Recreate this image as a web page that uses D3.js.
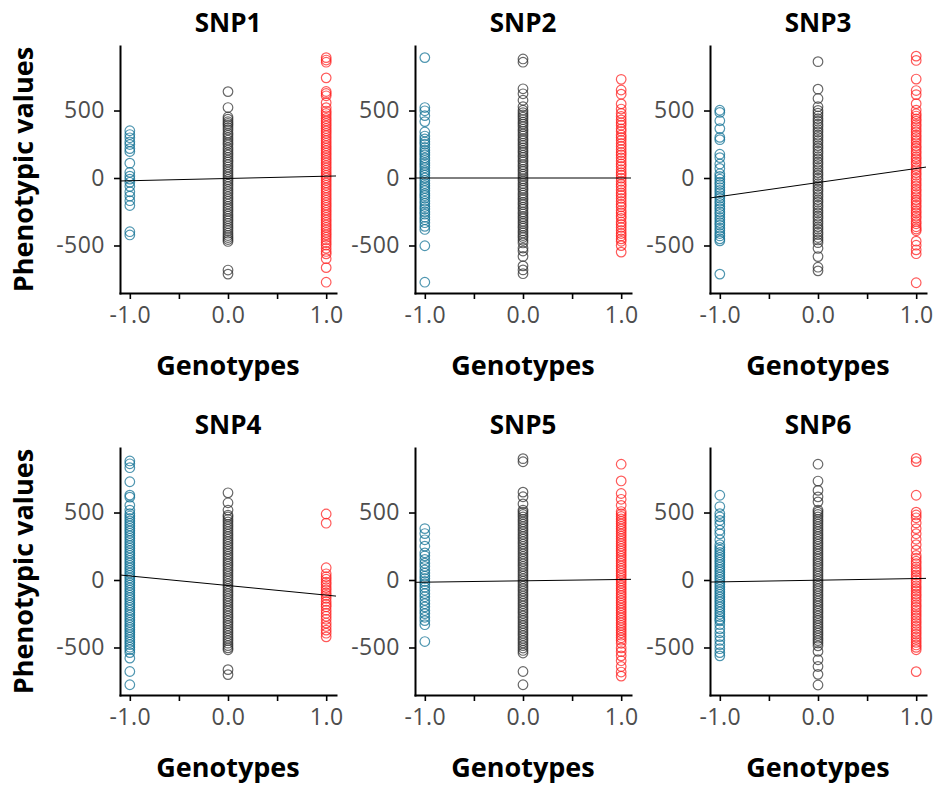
<!DOCTYPE html>
<html><head><meta charset="utf-8">
<script src="https://cdn.jsdelivr.net/npm/d3@7"></script>
<style>body{margin:0;background:#fff}svg{display:block}</style>
</head><body><svg id="c" width="938" height="789"></svg>
<script>
// ---------------- data ----------------
const snpNames = ["SNP1", "SNP2", "SNP3", "SNP4", "SNP5", "SNP6"];
const genotypes = [-1, 0, 1];
const genotypeTicks = [-1, -0.5, 0, 0.5, 1];
const genotypeTickLabels = ["-1.0", "", "0.0", "", "1.0"];
const phenoTicks = [-500, 0, 500];
const phenoTickLabels = ["-500", "0", "500"];

// SNP1
const snp1Minus = [350, 322, 298, 268, 248, 218, 196, 110, 42, 14, -8, -32, -62, -102, -134, -168, -204, -398, -422];
const snp1Het = [640, 522, 452, 436, 418, 404, 391, 373, 356, 333, 318, 299, 281, 262, 246, 224, 207, 188, 171, 152, 133, 118, 99, 81, 63, 44, 26, 8, -11, -27, -46, -64, -83, -101, -119, -139, -156, -174, -193, -211, -229, -247, -266, -283, -301, -318, -337, -356, -373, -391, -409, -426, -441, -456, -470, -682, -712];
const snp1Plus = [892, 874, 858, 742, 641, 626, 609, 558, 521, 496, 479, 461, 441, 423, 404, 386, 367, 349, 331, 313, 294, 276, 257, 239, 221, 203, 184, 166, 147, 129, 111, 92, 74, 56, 37, 19, 1, -17, -36, -54, -73, -91, -109, -128, -146, -164, -183, -201, -219, -238, -256, -274, -293, -311, -329, -348, -366, -384, -403, -421, -439, -458, -478, -497, -521, -544, -562, -598, -664, -772];
// SNP2
const snp2Minus = [892, 522, 498, 462, 418, 341, 311, 289, 268, 251, 226, 206, 188, 171, 149, 131, 111, 94, 76, 54, 39, 21, 1, -19, -41, -57, -76, -94, -116, -131, -149, -171, -189, -211, -229, -251, -268, -291, -309, -331, -358, -381, -502, -772];
const snp2Het = [882, 858, 661, 624, 576, 528, 502, 484, 467, 451, 433, 414, 399, 381, 361, 346, 327, 311, 291, 276, 257, 241, 223, 204, 189, 169, 153, 134, 119, 99, 83, 64, 49, 29, 13, -6, -21, -41, -57, -76, -91, -111, -127, -146, -161, -181, -197, -216, -231, -251, -267, -286, -301, -321, -337, -356, -371, -391, -407, -426, -441, -461, -481, -519, -541, -581, -651, -681, -709];
const snp2Plus = [731, 652, 621, 549, 511, 479, 456, 431, 409, 391, 364, 346, 319, 301, 279, 256, 234, 211, 189, 171, 149, 126, 104, 86, 61, 39, 21, -1, -24, -46, -64, -89, -111, -129, -151, -174, -196, -214, -241, -259, -281, -299, -326, -344, -366, -389, -411, -429, -451, -469, -501, -549];
// SNP3
const snp3Minus = [502, 486, 424, 366, 301, 284, 176, 151, 104, 71, 31, 12, -9, -31, -49, -71, -91, -109, -131, -149, -171, -189, -211, -229, -251, -269, -291, -309, -331, -349, -371, -389, -411, -429, -451, -466, -712];
const snp3Het = [862, 658, 589, 528, 501, 481, 461, 439, 421, 399, 381, 359, 341, 319, 301, 279, 261, 239, 221, 199, 181, 159, 141, 119, 101, 79, 61, 39, 21, -1, -19, -41, -59, -81, -99, -121, -139, -161, -179, -201, -219, -241, -259, -281, -299, -321, -339, -361, -379, -401, -419, -441, -459, -479, -521, -582, -661, -688];
const snp3Plus = [903, 871, 733, 648, 618, 551, 503, 476, 459, 438, 421, 398, 381, 359, 341, 318, 301, 279, 261, 238, 221, 199, 181, 158, 141, 119, 101, 78, 61, 39, 21, -2, -19, -41, -59, -82, -99, -121, -139, -162, -179, -201, -219, -242, -259, -281, -299, -322, -339, -361, -378, -391, -468, -498, -532, -561, -776];
// SNP4
const snp4Minus = [882, 861, 832, 728, 629, 614, 553, 518, 492, 474, 456, 437, 419, 401, 382, 364, 346, 327, 309, 291, 272, 254, 236, 217, 199, 181, 162, 144, 126, 107, 89, 71, 52, 34, 16, -3, -21, -39, -58, -76, -94, -113, -131, -149, -168, -186, -204, -223, -241, -259, -278, -296, -314, -333, -351, -369, -388, -406, -424, -443, -461, -479, -498, -516, -538, -579, -678, -776];
const snp4Het = [646, 572, 518, 481, 468, 449, 431, 412, 394, 376, 357, 339, 321, 302, 284, 266, 247, 229, 211, 192, 174, 156, 137, 119, 101, 82, 64, 46, 27, 9, -9, -28, -46, -64, -83, -101, -119, -138, -156, -174, -193, -211, -229, -248, -266, -284, -303, -321, -339, -358, -376, -394, -413, -431, -449, -468, -486, -503, -517, -664, -701];
const snp4Plus = [489, 421, 91, 46, 24, 6, -16, -34, -56, -74, -96, -114, -136, -159, -181, -199, -224, -246, -269, -291, -319, -344, -371, -394, -421];
// SNP5
const snp5Minus = [381, 344, 298, 251, 201, 179, 152, 124, 101, 74, 51, 29, 11, -11, -29, -54, -76, -101, -124, -151, -176, -199, -226, -249, -276, -301, -331, -456];
const snp5Het = [899, 876, 651, 617, 564, 518, 503, 486, 468, 449, 431, 413, 394, 376, 358, 339, 321, 303, 284, 266, 248, 229, 211, 193, 174, 156, 138, 119, 101, 83, 64, 46, 28, 9, -9, -27, -46, -64, -82, -101, -119, -137, -156, -174, -192, -211, -229, -247, -266, -284, -302, -321, -339, -357, -376, -394, -412, -431, -449, -467, -486, -504, -522, -541, -678, -776];
const snp5Plus = [858, 734, 641, 598, 553, 507, 489, 471, 452, 434, 416, 397, 379, 361, 342, 324, 306, 287, 269, 251, 232, 214, 196, 177, 159, 141, 122, 104, 86, 67, 49, 31, 12, -6, -24, -43, -61, -79, -98, -116, -134, -153, -171, -189, -208, -226, -244, -263, -281, -299, -318, -336, -354, -373, -391, -409, -428, -446, -469, -503, -531, -562, -598, -641, -682, -712];
// SNP6
const snp6Minus = [628, 544, 492, 468, 441, 412, 369, 342, 298, 262, 241, 223, 204, 186, 168, 149, 131, 113, 94, 76, 58, 39, 21, 3, -16, -34, -52, -71, -89, -107, -126, -144, -162, -181, -199, -217, -236, -254, -272, -291, -303, -331, -362, -391, -419, -448, -479, -509, -538, -562];
const snp6Het = [858, 733, 664, 616, 579, 518, 503, 486, 468, 449, 431, 413, 394, 376, 358, 339, 321, 303, 284, 266, 248, 229, 211, 193, 174, 156, 138, 119, 101, 83, 64, 46, 28, 9, -9, -27, -46, -64, -82, -101, -119, -137, -156, -174, -192, -211, -229, -247, -266, -284, -302, -321, -339, -357, -376, -394, -412, -431, -449, -467, -488, -529, -591, -641, -699, -778];
const snp6Plus = [901, 877, 628, 503, 482, 461, 423, 381, 343, 302, 262, 221, 182, 161, 139, 121, 98, 79, 61, 38, 19, -2, -21, -43, -62, -81, -103, -121, -142, -161, -183, -201, -222, -241, -262, -281, -302, -321, -342, -361, -382, -401, -422, -441, -462, -481, -499, -517, -679];

const minusSeries = [snp1Minus, snp2Minus, snp3Minus, snp4Minus, snp5Minus, snp6Minus];
const hetSeries = [snp1Het, snp2Het, snp3Het, snp4Het, snp5Het, snp6Het];
const plusSeries = [snp1Plus, snp2Plus, snp3Plus, snp4Plus, snp5Plus, snp6Plus];

// fitted regression line: phenotype = intercept + slope * genotype
const fitIntercept = [-3.5, 0, -33.5, -41, -6, -1.5];
const fitSlope = [16.8, 0, 104, -71, 10, 12.3];

// ---------------- drawing ----------------
const colors = {"-1": "#0b6d92", "0": "#2e2e2e", "1": "#ff1a1a"};
const svg = d3.select("#c");
const W = 216, H = 247;
const colX = [120, 415, 710], rowY = [46, 448];
const x = d3.scaleLinear().domain([-1.1, 1.1]).range([0, W]);
const y = d3.scaleLinear().domain([-852, 978]).range([H, 0]);
const tickFont = "'Open Sans', sans-serif";

snpNames.forEach((name, i) => {
  const col = i % 3, row = Math.floor(i / 3);
  const g = svg.append("g").attr("transform", `translate(${colX[col]},${rowY[row]})`);

  // points
  const pts = [];
  [minusSeries[i], hetSeries[i], plusSeries[i]].forEach((arr, k) => {
    arr.forEach(v => pts.push({gt: genotypes[k], v}));
  });
  g.append("g").selectAll("circle").data(pts).join("circle")
    .attr("cx", d => x(d.gt)).attr("cy", d => y(d.v)).attr("r", 4.8)
    .attr("fill", "none").attr("stroke", d => colors[d.gt])
    .attr("stroke-width", 1.2).attr("stroke-opacity", 0.72);

  // regression line across full x range
  const xd = x.domain();
  g.append("line")
    .attr("x1", x(xd[0])).attr("y1", y(fitIntercept[i] + fitSlope[i] * xd[0]))
    .attr("x2", x(xd[1])).attr("y2", y(fitIntercept[i] + fitSlope[i] * xd[1]))
    .attr("stroke", "#000").attr("stroke-width", 1);

  // axes
  const ax = g.append("g").attr("transform", `translate(0,${H})`)
    .call(d3.axisBottom(x).tickValues(genotypeTicks)
      .tickFormat((d, j) => genotypeTickLabels[j]).tickSize(6).tickSizeOuter(0).tickPadding(8));
  const ay = g.append("g")
    .call(d3.axisLeft(y).tickValues(phenoTicks)
      .tickFormat((d, j) => phenoTickLabels[j]).tickSize(6).tickSizeOuter(0).tickPadding(9));
  [ax, ay].forEach(a => {
    a.attr("font-family", tickFont).attr("font-size", 23);
    a.select(".domain").attr("stroke", "#000").attr("stroke-width", 2).attr("stroke-linecap", "square");
    a.selectAll(".tick line").attr("stroke", "#000").attr("stroke-width", 1.6);
    a.selectAll(".tick text").attr("fill", "#4d4d4d").attr("letter-spacing", 0.5);
  });

  // titles
  svg.append("text").attr("x", colX[col] + W / 2).attr("y", rowY[row] - 14)
    .attr("text-anchor", "middle").attr("font-family", tickFont).attr("font-weight", 700)
    .attr("font-size", 26).attr("fill", "#000").text(name);
  svg.append("text").attr("x", colX[col] + W / 2).attr("y", rowY[row] + H + 82)
    .attr("text-anchor", "middle").attr("font-family", tickFont).attr("font-weight", 700)
    .attr("font-size", 27).attr("fill", "#000").text("Genotypes");
  if (col === 0) {
    svg.append("text").attr("transform", `translate(33,${rowY[row] + H / 2}) rotate(-90)`)
      .attr("text-anchor", "middle").attr("font-family", tickFont).attr("font-weight", 700)
      .attr("font-size", 27).attr("fill", "#000").text("Phenotypic values");
  }
});
</script></body></html>
